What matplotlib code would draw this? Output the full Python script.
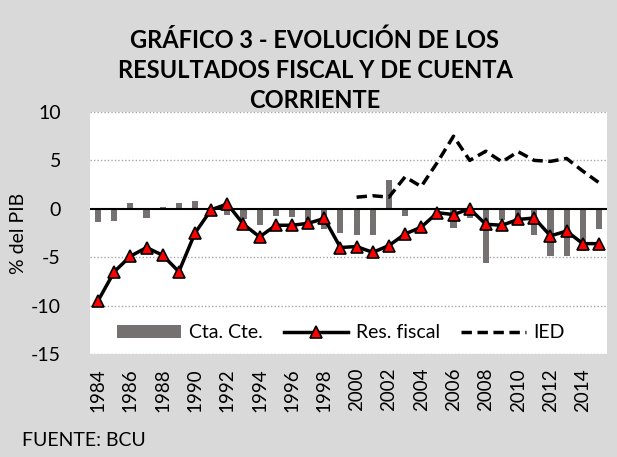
import matplotlib
matplotlib.use("Agg")
import matplotlib.pyplot as plt
import numpy as np

years = list(range(1984, 2016))
cta_cte = [-1.4, -1.3, 0.6, -1.0, 0.2, 0.6, 0.85, 0.2, -0.6, -1.1, -1.7, -0.7, -0.85, -1.15,
           -2.1, -2.5, -2.7, -2.7, 3.0, -0.75, 0.0, -0.1, -2.0, -1.0, -5.6, -1.2, -1.0, -2.7,
           -4.9, -4.9, -4.4, -2.1]
res_fiscal = [-9.5, -6.5, -4.9, -4.0, -4.8, -6.5, -2.5, -0.1, 0.5, -1.6, -2.9, -1.7, -1.7, -1.5,
              -1.0, -4.0, -3.9, -4.5, -3.8, -2.6, -1.9, -0.4, -0.6, 0.0, -1.6, -1.7, -1.1, -0.95,
              -2.8, -2.3, -3.6, -3.6]
ied_years = list(range(2000, 2016))
ied = [1.2, 1.35, 1.2, 3.3, 2.3, 4.8, 7.5, 5.0, 5.95, 4.85, 5.9, 5.0, 4.9, 5.2, 3.9, 2.7]
xtick_labels = [str(y) for y in range(1984, 2016, 2)]
yticks = [10, 5, 0, -5, -10, -15]

title = "GRÁFICO 3 - EVOLUCIÓN DE LOS\nRESULTADOS FISCAL Y DE CUENTA\nCORRIENTE"

body_font = ['Lato', 'DejaVu Sans']
title_font = ['Lato', 'DejaVu Sans']

bg = '#d9d9d9'
fig = plt.figure(figsize=(6.17, 4.57), dpi=100, facecolor=bg)
ax = fig.add_axes([90/617, 1-354/457, (607-90)/617, (354-112)/457])
ax.set_facecolor('white')

x = np.arange(len(years))
xi = np.array([years.index(y) for y in ied_years])

for yv in [10, 5, -5, -10, -15]:
    ax.axhline(yv, color='#a6a6a6', lw=1.0, ls=(0, (1, 1.5)), zorder=1)

bars = ax.bar(x, cta_cte, width=0.38, color='#767171', zorder=2, label='Cta. Cte.')
ax.axhline(0, color='black', lw=1.5, zorder=3)
l1, = ax.plot(x, res_fiscal, color='black', lw=2.5, marker='^', markersize=8,
              markerfacecolor='#ff0000', markeredgecolor='black', markeredgewidth=1.2,
              zorder=4, label='Res. fiscal')
l2, = ax.plot(xi, ied, color='black', lw=2.5, ls=(0, (3, 1.6)), zorder=4, label='IED')

ax.set_xlim(-0.5, len(years) - 0.5)
ax.set_ylim(-15, 10)
ax.set_yticks(yticks)
ax.set_yticklabels([str(v) for v in yticks], fontsize=14, family=body_font)
ax.set_xticks(x[::2])
ax.set_xticklabels(xtick_labels, rotation=90, fontsize=13.5, family=body_font)
ax.tick_params(axis='y', length=0, pad=21)
ax.tick_params(axis='x', length=0, pad=10)
for s in ax.spines.values():
    s.set_visible(False)

ax.set_ylabel('% del PIB', fontsize=14, family=body_font)
ax.yaxis.set_label_coords((27 - 90) / 517, 0.5)

leg = ax.legend([bars, l1, l2], ['Cta. Cte.', 'Res. fiscal', 'IED'],
                loc='lower center', bbox_to_anchor=(0.485, 0.0), ncol=3, frameon=False,
                prop={'family': body_font, 'size': 14}, handlelength=3.3,
                columnspacing=1.1, handletextpad=0.4, borderaxespad=0.25)

fig.text(315/617, 1-70/457, title, ha='center', va='center', fontsize=17,
         fontweight='bold', family=title_font, linespacing=1.38)
fig.text(22/617, 1-440/457, 'FUENTE: BCU', ha='left', va='center', fontsize=14,
         family=body_font)

fig.savefig('out.png', dpi=100, facecolor=bg)
